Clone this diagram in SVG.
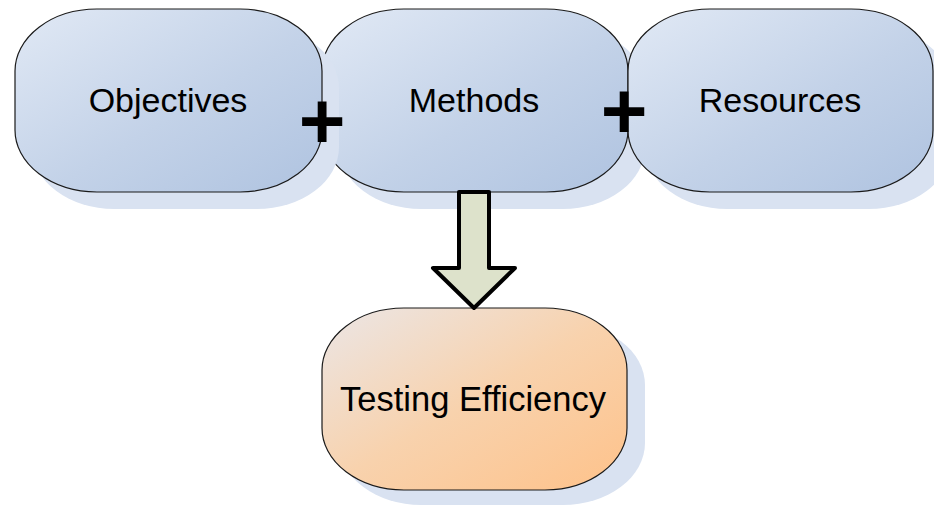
<svg xmlns="http://www.w3.org/2000/svg" width="934" height="506" viewBox="0 0 934 506">
<defs>
<linearGradient id="gBlue" x1="0" y1="0" x2="1" y2="1">
<stop offset="0" stop-color="#e1e9f5"/>
<stop offset="0.55" stop-color="#c3d2e8"/>
<stop offset="1" stop-color="#afc3e0"/>
</linearGradient>
<linearGradient id="gOrange" x1="0" y1="0" x2="1" y2="1">
<stop offset="0" stop-color="#ebe6e6"/>
<stop offset="0.5" stop-color="#f8d2ad"/>
<stop offset="1" stop-color="#fec28a"/>
</linearGradient>
</defs>
<style>
.shadow{fill:#d9e2f1}
.box{stroke:#1a1a1a;stroke-width:1.2}
.blue{fill:url(#gBlue)}
.orange{fill:url(#gOrange)}
.lbl{font-family:"Liberation Sans",Arial,sans-serif;font-size:34px;fill:#000;text-anchor:middle}
.lbl2{font-family:"Liberation Sans",Arial,sans-serif;font-size:34.5px;fill:#000;text-anchor:middle}
.plus{font-family:"Liberation Sans",Arial,sans-serif;font-size:80px;font-weight:bold;fill:#000;text-anchor:middle}
.arrow{fill:#dde2cb;stroke:#000;stroke-width:4;stroke-linejoin:round}
</style>
<rect width="934" height="506" fill="#ffffff"/>
<g id="methods">
<rect class="shadow" x="339" y="26" width="306" height="183" rx="82" ry="62"/>
<rect class="box blue" x="322" y="9" width="306" height="183" rx="82" ry="62"/>
<text class="lbl" x="474" y="112">Methods</text>
</g>
<g id="resources">
<rect class="shadow" x="645" y="26" width="306" height="183" rx="82" ry="62"/>
<rect class="box blue" x="628" y="9" width="305" height="183" rx="82" ry="62"/>
<text class="lbl" x="780" y="112">Resources</text>
</g>
<g id="objectives">
<rect class="shadow" x="32" y="26" width="307" height="183" rx="82" ry="62"/>
<rect class="box blue" x="15" y="9" width="307" height="183" rx="82" ry="62"/>
<text class="lbl" x="168" y="112">Objectives</text>
</g>
<g id="testing">
<rect class="shadow" x="339" y="323" width="306" height="182" rx="82" ry="62"/>
<rect class="box orange" x="322" y="308" width="305" height="182" rx="82" ry="62"/>
<text class="lbl2" x="473" y="411">Testing Efficiency</text>
</g>
<g id="operators">
<text class="plus" x="322" y="148">+</text>
<text class="plus" x="624" y="138">+</text>
</g>
<g id="connectors">
<path class="arrow" d="M459,192 L489,192 L489,268 L515,268 L474,308 L433,268 L459,268 Z"/>
</g>
</svg>
